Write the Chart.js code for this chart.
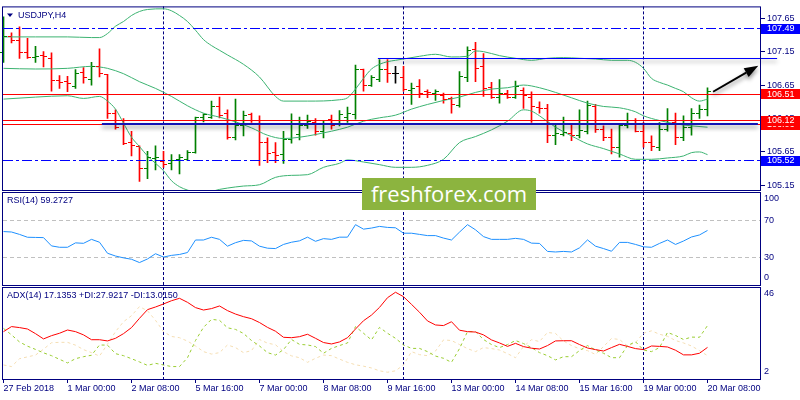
<!DOCTYPE html>
<html>
<head>
<meta charset="utf-8">
<title>USDJPY H4</title>
<script src="https://cdn.jsdelivr.net/npm/chart.js@4.4.1/dist/chart.umd.min.js"></script>
<style>
  html, body { margin: 0; padding: 0; background: #fff; }
  #wrap { position: relative; width: 800px; height: 400px; overflow: hidden; }
  #wrap canvas { position: absolute; left: 0; top: 0; }
  #brand {
    position: absolute; left: 362px; top: 178px; width: 174px; height: 32px;
    background: #8cb43f; color: #fff; font-family: "Open Sans", sans-serif; font-size: 22px;
    line-height: 30px; text-align: center;
  }
</style>
</head>
<body>
<div id="wrap">
  <canvas id="priceChart" width="800" height="400"></canvas>
  <canvas id="rsiChart" width="800" height="400"></canvas>
  <canvas id="adxChart" width="800" height="400"></canvas>
  <div id="brand">freshforex.com</div>
</div>
<script>
// USDJPY H4 bars, 27 Feb 2018 16:00 .. 20 Mar 08:00 (one entry per bar)
const opens = [107.13,107.37,107.31,107.13,107.06,107.09,107.04,106.72,106.70,106.63,
  106.84,106.74,106.92,106.81,106.22,106.12,105.79,105.73,105.40,105.55,
  105.51,105.47,105.53,105.53,105.64,106.16,106.17,106.33,106.22,105.86,
  106.04,106.21,106.12,105.79,105.64,105.61,105.83,105.91,106.04,106.09,
  105.95,106.14,106.07,106.17,106.21,106.88,106.65,106.74,106.88,106.83,
  106.76,106.57,106.63,106.56,106.52,106.50,106.45,106.35,106.76,107.18,
  106.93,106.61,106.46,106.53,106.47,106.57,106.46,106.32,106.30,105.90,
  105.91,105.92,105.90,105.96,106.33,105.99,105.87,105.72,106.04,106.12,
  105.96,105.79,105.72,105.99,106.09,105.87,106.02,106.23,106.28];
const highs = [107.67,107.43,107.52,107.35,107.23,107.15,107.13,106.79,106.78,106.88,
  106.91,106.99,107.19,106.81,106.28,106.15,105.96,105.74,105.66,105.74,
  105.66,105.61,105.61,105.67,106.17,106.22,106.41,106.47,106.28,106.44,
  106.26,106.23,106.19,105.86,105.79,105.96,106.22,106.17,106.20,106.15,
  106.12,106.20,106.27,106.32,106.95,106.89,106.79,107.03,107.03,106.93,
  106.93,106.68,106.73,106.58,106.58,106.53,106.47,106.85,107.22,107.29,
  107.12,106.69,106.73,106.57,106.71,106.61,106.55,106.40,106.36,106.06,
  106.17,106.06,106.28,106.41,106.36,106.04,105.99,106.05,106.23,106.15,
  106.09,105.89,106.09,106.30,106.23,106.19,106.30,106.35,106.61];
const lows = [106.99,107.28,107.05,107.05,106.99,106.92,106.56,106.60,106.55,106.60,
  106.68,106.65,106.77,106.15,105.99,105.76,105.59,105.21,105.25,105.38,
  105.42,105.38,105.32,105.52,105.63,106.10,106.15,106.16,105.84,105.83,
  105.89,106.09,105.45,105.49,105.49,105.48,105.78,105.83,106.00,105.90,
  105.86,105.99,106.04,106.09,106.14,106.56,106.63,106.70,106.69,106.68,
  106.56,106.36,106.46,106.46,106.42,106.38,106.23,106.32,106.70,106.70,
  106.48,106.45,106.38,106.45,106.45,106.30,106.09,106.23,105.79,105.76,
  105.89,105.82,105.86,105.92,105.94,105.82,105.62,105.57,106.01,105.95,
  105.72,105.67,105.67,105.96,105.76,105.82,105.90,106.15,106.19];
const closes = [107.38,107.31,107.13,107.06,107.08,107.07,106.72,106.69,106.68,106.83,
  106.76,106.93,106.82,106.22,106.01,105.78,105.74,105.40,105.56,105.57,
  105.46,105.52,105.57,105.64,106.16,106.21,106.33,106.20,105.86,106.04,
  106.20,106.12,105.79,105.62,105.59,105.83,106.06,106.04,106.10,105.96,
  106.07,106.05,106.21,106.22,106.88,106.64,106.76,106.88,106.83,106.83,
  106.58,106.60,106.53,106.54,106.55,106.43,106.36,106.78,107.17,106.90,
  106.60,106.47,106.53,106.47,106.63,106.50,106.33,106.30,105.90,105.92,
  105.94,105.89,105.97,106.34,105.99,105.87,105.72,106.04,106.07,105.96,
  105.79,105.73,105.99,106.12,105.87,106.02,106.23,106.28,106.55];

// Bollinger bands, read at the listed bars
const bbUpperBars = [0,4,8,11,12,13,14,15,16,17,18,20,21,22,23,24,25,26,27,28,30,32,34,35,38,
  42,43,44,45,46,47,48,49,50,52,54,56,58,59,60,62,64,66,68,70,72,74,76,78,79,80,81,82,83,84,85,86,87,88];
const bbUpper = [107.37,107.37,107.37,107.36,107.36,107.42,107.53,107.60,107.69,107.75,
  107.78,107.79,107.76,107.69,107.60,107.47,107.33,107.24,107.17,107.10,
  106.96,106.77,106.48,106.41,106.41,106.43,106.46,106.59,106.75,106.89,
  106.96,107.00,107.02,107.04,107.08,107.11,107.07,107.08,107.16,107.15,
  107.09,107.05,107.02,107.05,107.06,107.05,107.04,107.02,107.02,106.99,
  106.90,106.75,106.69,106.65,106.60,106.55,106.46,106.41,106.44];
const bbMidBars = [0,4,8,11,12,13,15,17,19,21,23,25,27,29,31,33,35,37,39,41,43,45,47,49,51,
  53,55,57,59,61,63,65,67,69,71,73,75,77,79,80,82,84,86,88];
const bbMid = [106.90,106.89,106.90,106.93,106.92,106.90,106.82,106.70,106.60,106.48,
  106.34,106.23,106.17,106.10,106.01,105.90,105.85,105.87,105.91,105.96,
  106.02,106.11,106.16,106.20,106.29,106.36,106.42,106.47,106.54,106.59,
  106.61,106.65,106.61,106.54,106.46,106.38,106.33,106.31,106.25,106.19,
  106.12,106.07,106.04,106.02];
const bbLowerBars = [0,4,8,10,12,13,14,15,16,17,18,19,20,21,22,23,24,25,26,27,28,30,32,34,36,
  38,40,42,43,45,47,49,51,53,55,57,59,61,63,65,66,67,69,71,73,75,77,79,81,83,85,86,87,88];
const bbLower = [106.44,106.47,106.49,106.45,106.48,106.41,106.29,106.08,105.87,105.73,
  105.59,105.48,105.37,105.22,105.13,105.08,105.05,105.05,105.06,105.09,
  105.11,105.14,105.16,105.27,105.30,105.31,105.42,105.48,105.53,105.50,
  105.46,105.42,105.42,105.45,105.54,105.79,105.88,105.98,106.11,106.28,
  106.26,106.19,106.02,105.89,105.77,105.70,105.62,105.54,105.54,105.56,
  105.59,105.64,105.65,105.61];

const rsi = [58.1,57.6,55,51.9,51.7,51.5,42.5,41,41,45.8,
  45.3,49.6,46.5,34.5,31.5,29.5,28,24.4,28.3,34,
  30.4,32.2,33.2,35.3,48.9,48.9,51.9,49.6,42.2,46,
  48.5,47.9,42.2,40,39.6,44.1,46.5,48,52,47.5,
  50.4,49.6,52,52,65.6,60.7,61.9,63.7,62.6,62.2,
  56.3,56.3,55,53.7,53.7,51,48.9,57.5,65.6,60,
  52.6,49.6,49.6,49.6,50.7,49.6,45.5,45.2,36.5,35.9,
  36.5,35.9,40.4,49,42.2,39.6,36.7,46.3,46.3,44.1,
  41.5,41,45.2,48.9,44.1,47.8,52.2,54.4,59.3];

const adx = [24.9,27.4,26.9,26.2,23.9,21.3,22.9,24.1,25.7,24.9,
  23.3,20.9,20.9,20.3,21.6,23.9,26.9,31.5,35.8,37.1,
  38.6,40.2,41.4,39.4,36.8,35.6,36.3,37.6,35.3,33.6,
  32.3,31.3,29.4,27.0,25.1,22.1,21.9,22.4,23.6,21.6,
  19.5,18.8,19.8,21.9,26.2,30.3,33.1,36.9,41.7,44.4,
  42.2,38.4,34.5,30.2,28.2,27.9,29.8,25.6,24.9,24.7,
  23.3,20.8,19.3,17.6,19.1,17.5,16.7,16.3,18.0,20.3,
  20.4,20.4,18.5,16.8,16.0,15.3,17.0,18.6,17.6,16.5,
  16.0,17.8,17.6,17.3,15.7,13.4,13.4,14.2,17.1];
const plusDI = [26.5,23.3,19.8,17.7,16.1,14.4,13.0,11.2,9.4,11.5,
  12.5,13.2,18.3,18.2,14.0,13.0,11.5,9.9,8.2,9.2,
  8.4,7.6,7.6,12.0,20.5,27.0,31.0,30.5,26.8,26.0,
  24.0,20.5,17.8,14.5,13.3,16.0,21.0,18.6,18.3,17.5,
  14.2,16.6,18.0,19.3,27.4,24.1,20.8,27.0,24.1,21.6,
  18.3,16.6,16.6,15.0,12.8,11.7,9.7,16.5,24.9,24.9,
  21.0,18.5,17.0,18.5,20.5,19.0,17.0,14.5,13.0,10.9,
  12.5,12.5,15.5,18.0,15.8,14.2,12.0,12.0,18.0,19.9,
  15.8,15.0,17.0,24.5,23.0,21.0,22.2,22.1,27.9];
const minusDI = [8.4,7.6,11.5,12.4,13.3,16.2,19.4,19.6,19.6,18.2,
  16.0,14.5,12.8,18.7,24.9,29.8,32.8,37.3,35.2,30.5,
  24.9,22.5,21.9,20.2,17.8,15.0,13.8,14.5,18.3,17.0,
  14.5,15.5,21.0,19.2,18.4,15.0,12.9,12.0,9.7,11.7,
  13.3,13.0,11.3,9.7,8.5,7.8,6.9,5.5,4.8,5.5,
  8.4,15.0,13.5,13.0,15.3,20.8,20.5,18.5,16.5,15.0,
  17.0,16.5,15.8,14.0,12.0,17.5,20.9,20.0,24.5,24.0,
  20.3,18.0,16.4,15.5,13.6,17.5,21.5,21.0,17.8,19.5,
  24.1,25.3,23.6,22.6,20.5,19.3,17.8,15.5,13.0];

const xTickBars = [0,8,16,24,32,40,48,56,64,72,80,88];
const xTickLabels = ['27 Feb 2018','1 Mar 00:00','2 Mar 08:00','5 Mar 16:00','7 Mar 00:00','8 Mar 08:00',
  '9 Mar 16:00','13 Mar 00:00','14 Mar 08:00','15 Mar 16:00','19 Mar 00:00','20 Mar 08:00'];
const priceTicks = [105.15, 105.65, 106.15, 106.65, 107.15, 107.65];
const rsiLevels = [30, 70];
const rsiTicks = [100, 70, 30, 0];
const adxTicks = [46, 2];
const separatorBars = [20, 50, 80];

const blueLevels = [107.49, 105.52];
const redLevels = [106.51, 106.06, 106.12];
const trendFrom = [46.8, 12.3];
const trendTo = [96.7, 94.3];
const trendPrice = [107.05, 106.07];
const arrowFrom = [88.7, 106.55];
const arrowTo = [94.35, 106.94];

const mainTitle = 'USDJPY,H4';
const rsiTitle = 'RSI(14) 59.2727';
const adxTitle = 'ADX(14) 17.1353 +DI:27.9217 -DI:13.0150';

const NAVY = '#000080';
const FONT = '"Liberation Sans", Arial, sans-serif';
const X_MIN = -0.0625, X_MAX = 94.6875;
Chart.defaults.font.family = FONT;
Chart.defaults.font.size = 9;
Chart.defaults.color = NAVY;

const barColors = closes.map((c, i) => c > opens[i] ? '#008000' : (c < opens[i] ? '#ff0000' : '#000000'));
const pts = (bars, vals) => bars.map((b, k) => ({x: b, y: vals[k]}));
const series = vals => vals.map((v, i) => ({x: i, y: v}));

function hline(ctx, x0, x1, y) {
  ctx.beginPath(); ctx.moveTo(x0, y); ctx.lineTo(x1, y); ctx.stroke();
}

const separators = {
  id: 'separators',
  beforeDatasetsDraw(chart) {
    const {ctx, chartArea: a, scales: {x}} = chart;
    ctx.save();
    ctx.strokeStyle = NAVY; ctx.lineWidth = 1; ctx.setLineDash([3, 2]);
    separatorBars.forEach(b => {
      const px = Math.floor(x.getPixelForValue(b)) + 0.5;
      ctx.beginPath(); ctx.moveTo(px, a.top - 1); ctx.lineTo(px, a.bottom + 2); ctx.stroke();
    });
    ctx.restore();
  }
};

const panelBorder = {
  id: 'panelBorder',
  afterDraw(chart) {
    const {ctx, chartArea: a} = chart;
    ctx.save();
    ctx.strokeStyle = NAVY; ctx.lineWidth = 1;
    ctx.strokeRect(a.left - 0.5, a.top - 0.5, a.right - a.left, a.bottom - a.top + 1);
    ctx.restore();
  }
};

function titlePlugin(text, marker) {
  return {
    id: 'panelTitle',
    afterDraw(chart) {
      const {ctx, chartArea: a} = chart;
      ctx.save();
      ctx.fillStyle = NAVY; ctx.font = '9px ' + FONT; ctx.textBaseline = 'middle';
      let tx = a.left + 4;
      if (marker) {
        ctx.beginPath();
        ctx.moveTo(a.left + 4, a.top + 6); ctx.lineTo(a.left + 10, a.top + 6); ctx.lineTo(a.left + 7, a.top + 9.5);
        ctx.closePath(); ctx.fill();
        tx = a.left + 15;
      }
      ctx.fillText(text, tx, a.top + 8);
      ctx.restore();
    }
  };
}

function sideLabels(values) {
  return {
    id: 'sideLabels',
    afterDraw(chart) {
      const {ctx, chartArea: a, scales: {y}} = chart;
      ctx.save();
      ctx.fillStyle = NAVY; ctx.font = '9px ' + FONT; ctx.textBaseline = 'middle';
      values.forEach(v => {
        const py = Math.min(Math.max(y.getPixelForValue(v), a.top + 6), a.bottom - 7);
        ctx.fillText(String(v), a.right + 3, py);
      });
      ctx.restore();
    }
  };
}

const priceOverlay = {
  id: 'priceOverlay',
  afterDatasetsDraw(chart) {
    const {ctx, chartArea: a, scales: {x, y}} = chart;
    ctx.save();
    // open tick on the left, close tick on the right
    opens.forEach((o, i) => {
      const px = Math.floor(x.getPixelForValue(i));
      ctx.fillStyle = barColors[i];
      ctx.fillRect(px - 3, Math.floor(y.getPixelForValue(o)), 3, 1);
      ctx.fillRect(px + 1, Math.floor(y.getPixelForValue(closes[i])), 3, 1);
    });
    ctx.beginPath(); ctx.rect(a.left, a.top, a.right - a.left, a.bottom - a.top); ctx.clip();
    ctx.lineWidth = 1;
    ctx.strokeStyle = '#0000ff'; ctx.setLineDash([10, 3, 3, 3]);
    blueLevels.forEach(v => hline(ctx, a.left, a.right, Math.floor(y.getPixelForValue(v)) + 0.5));
    ctx.setLineDash([]); ctx.strokeStyle = '#ff0000';
    redLevels.forEach(v => hline(ctx, a.left, a.right, Math.floor(y.getPixelForValue(v)) + 0.5));
    ctx.restore();
  },
  afterDraw(chart) {
    const {ctx, chartArea: a, scales: {x, y}} = chart;
    ctx.save();
    ctx.shadowColor = 'rgba(0,0,0,0.45)'; ctx.shadowBlur = 4; ctx.shadowOffsetY = 3;
    trendPrice.forEach((p, k) => {
      const thick = k === 1;
      ctx.strokeStyle = thick ? '#1414b4' : '#0000ff';
      ctx.lineWidth = thick ? 2 : 1;
      const py = thick ? Math.round(y.getPixelForValue(p)) : Math.floor(y.getPixelForValue(p)) + 0.5;
      hline(ctx, x.getPixelForValue(trendFrom[k]), x.getPixelForValue(trendTo[k]), py);
    });
    // arrow
    const x0 = x.getPixelForValue(arrowFrom[0]), y0 = y.getPixelForValue(arrowFrom[1]);
    const x1 = x.getPixelForValue(arrowTo[0]), y1 = y.getPixelForValue(arrowTo[1]);
    const ang = Math.atan2(y1 - y0, x1 - x0);
    const bx = x1 - 14 * Math.cos(ang), by = y1 - 14 * Math.sin(ang);
    ctx.strokeStyle = '#000'; ctx.fillStyle = '#000'; ctx.lineWidth = 2;
    ctx.beginPath(); ctx.moveTo(x0, y0); ctx.lineTo(bx, by); ctx.stroke();
    ctx.beginPath();
    ctx.moveTo(x1, y1);
    ctx.lineTo(bx + 5 * Math.sin(ang), by - 5 * Math.cos(ang));
    ctx.lineTo(bx - 5 * Math.sin(ang), by + 5 * Math.cos(ang));
    ctx.closePath(); ctx.fill();
    ctx.restore();

    // price boxes on the right scale
    ctx.save();
    ctx.font = '9px ' + FONT; ctx.textBaseline = 'middle';
    const boxes = blueLevels.map(v => [v, '#0000ff']).concat(redLevels.map(v => [v, '#ff0000']));
    boxes.forEach(([v, c]) => {
      const py = y.getPixelForValue(v);
      ctx.fillStyle = c; ctx.fillRect(a.right, Math.round(py) - 5, 39, 10);
      ctx.fillStyle = '#fff'; ctx.fillText(v.toFixed(2), a.right + 6, py);
    });
    ctx.restore();
  }
};

const rsiLevelLines = {
  id: 'rsiLevels',
  beforeDatasetsDraw(chart) {
    const {ctx, chartArea: a, scales: {y}} = chart;
    ctx.save();
    ctx.strokeStyle = '#c0c0c0'; ctx.lineWidth = 1; ctx.setLineDash([4, 3]);
    rsiLevels.forEach(v => hline(ctx, a.left, a.right, Math.floor(y.getPixelForValue(v)) + 0.5));
    ctx.restore();
  }
};

const common = {
  responsive: false,
  animation: false,
  devicePixelRatio: 1,
  events: [],
  plugins: { legend: { display: false }, tooltip: { enabled: false } }
};
const hiddenX = { type: 'linear', min: X_MIN, max: X_MAX, offset: false, display: false };

// price panel
new Chart(document.getElementById('priceChart'), {
  type: 'bar',
  data: {
    datasets: [
      { type: 'line', data: pts(bbUpperBars, bbUpper), borderColor: '#3cb371', borderWidth: 1, pointRadius: 0, cubicInterpolationMode: 'monotone' },
      { type: 'line', data: pts(bbMidBars, bbMid), borderColor: '#3cb371', borderWidth: 1, pointRadius: 0, cubicInterpolationMode: 'monotone' },
      { type: 'line', data: pts(bbLowerBars, bbLower), borderColor: '#3cb371', borderWidth: 1, pointRadius: 0, cubicInterpolationMode: 'monotone' },
      { type: 'bar', data: highs.map((h, i) => ({x: i, y: [lows[i], h]})), backgroundColor: barColors, barThickness: 1, grouped: false }
    ]
  },
  options: Object.assign({}, common, {
    layout: { padding: { left: 3, top: 3, right: 0, bottom: 210 } },
    scales: {
      x: hiddenX,
      y: {
        position: 'right', min: 105.081, max: 107.811,
        afterFit: s => { s.width = 39; },
        afterBuildTicks: s => { s.ticks = priceTicks.map(v => ({value: v})); },
        ticks: { color: NAVY, padding: 2, callback: v => Number(v).toFixed(2) },
        grid: { drawOnChartArea: false, tickLength: 4, color: NAVY },
        border: { display: false }
      }
    }
  }),
  plugins: [separators, priceOverlay, panelBorder, titlePlugin(mainTitle, true)]
});

// RSI panel
new Chart(document.getElementById('rsiChart'), {
  type: 'line',
  data: {
    datasets: [
      { data: series(rsi), borderColor: '#1e90ff', borderWidth: 1, pointRadius: 0 }
    ]
  },
  options: Object.assign({}, common, {
    layout: { padding: { left: 3, top: 193, right: 39, bottom: 115 } },
    scales: { x: hiddenX, y: { min: 0, max: 100, display: false } }
  }),
  plugins: [separators, rsiLevelLines, panelBorder, titlePlugin(rsiTitle, false), sideLabels(rsiTicks)]
});

// ADX panel with the time axis
new Chart(document.getElementById('adxChart'), {
  type: 'line',
  data: {
    datasets: [
      { data: series(adx), borderColor: '#ff0000', borderWidth: 1, pointRadius: 0 },
      { data: series(plusDI), borderColor: '#9acd32', borderWidth: 1, borderDash: [3, 3], pointRadius: 0 },
      { data: series(minusDI), borderColor: '#f5deb3', borderWidth: 1, borderDash: [3, 3], pointRadius: 0 }
    ]
  },
  options: Object.assign({}, common, {
    layout: { padding: { left: 3, top: 288, right: 39, bottom: 0 } },
    scales: {
      x: {
        type: 'linear', min: X_MIN, max: X_MAX, offset: false, position: 'bottom',
        afterBuildTicks: s => { s.ticks = xTickBars.map(v => ({value: v})); },
        afterFit: s => { s.height = 21; },
        ticks: { callback: (v, i) => xTickLabels[i], align: 'start', maxRotation: 0, autoSkip: false, padding: 0, color: NAVY },
        grid: { drawOnChartArea: false, tickLength: 4, color: NAVY },
        border: { display: false }
      },
      y: { min: 1.45, max: 46.5, display: false }
    }
  }),
  plugins: [separators, panelBorder, titlePlugin(adxTitle, false), sideLabels(adxTicks)]
});
</script>
</body>
</html>
